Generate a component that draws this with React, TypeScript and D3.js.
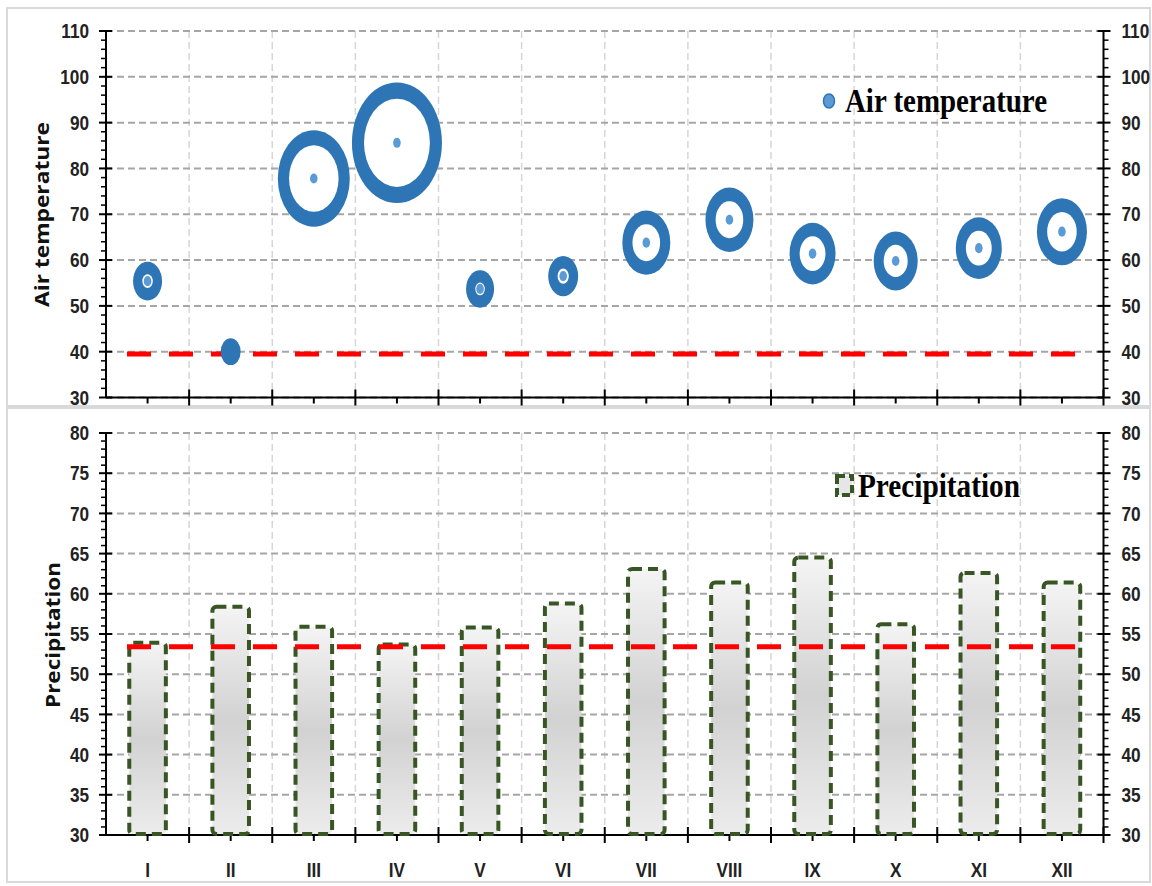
import React from "react";
import * as d3 from "d3";

const months = ["I", "II", "III", "IV", "V", "VI", "VII", "VIII", "IX", "X", "XI", "XII"];
const airTemp = [55.4, 40.0, 77.8, 85.6, 53.7, 56.5, 63.8, 68.8, 61.4, 59.8, 62.6, 66.2];
const bubbleSize = [10.4, 4.9, 64, 100, 9.7, 11.1, 28.4, 28.4, 26.1, 23.9, 26.1, 30.9];
const precipitation = [53.9, 58.4, 55.9, 53.7, 55.8, 58.8, 63.1, 61.4, 64.5, 56.2, 62.6, 61.4];
const airTempRef = 39.5;
const precipRef = 53.4;
const topTicks = [30, 40, 50, 60, 70, 80, 90, 100, 110];
const botTicks = [30, 35, 40, 45, 50, 55, 60, 65, 70, 75, 80];

const W = 1152;
const H = 886;
const L = 106;
const R = 1103.5;
const tickFont = "'Liberation Sans', Arial, sans-serif";

function Lbl(props: { x: number; y: number; anchor: string; children: React.ReactNode; size?: number }) {
  return (
    <text
      transform={`translate(${props.x},${props.y}) scale(0.86,1)`}
      dy="0.36em"
      textAnchor={props.anchor as any}
      fontFamily={tickFont}
      fontWeight="bold"
      fontSize={props.size ?? 20}
      fill="#222"
    >
      {props.children}
    </text>
  );
}

export default function App() {
  const x = d3.scaleBand<string>().domain(months).range([L, R]).padding(0);
  const yT = d3.scaleLinear().domain([30, 110]).range([397.5, 31]);
  const yB = d3.scaleLinear().domain([30, 80]).range([835, 433]);
  const rScale = d3.scaleSqrt().domain([0, 100]).range([0, 45]);
  const aspect = 1.34;
  const blue = "#2e75b6";
  const lightBlue = "#5b9bd5";
  const green = "#375623";

  const axisY = (y: d3.ScaleLinear<number, number>, ticks: number[], minorStep: number, key: string) => {
    const [d0, d1] = y.domain();
    const minors = d3.range(d0, d1 + 1e-9, minorStep).filter((v) => !ticks.some((t) => Math.abs(t - v) < 1e-9));
    const x0 = y.range()[0];
    return (
      <g key={key}>
        {ticks.map((t) => (
          <line key={"g" + t} x1={L} x2={R} y1={y(t)} y2={y(t)} stroke="#a6a6a6" strokeWidth={2} strokeDasharray="7,4" />
        ))}
        <line x1={L} x2={L} y1={y(d0)} y2={y(d1)} stroke="#000" strokeWidth={2} />
        {ticks.map((t) => (
          <line key={"lt" + t} x1={L - 7} x2={L + 6} y1={y(t)} y2={y(t)} stroke="#000" strokeWidth={2} />
        ))}
        {minors.map((t) => (
          <line key={"lm" + t} x1={L - 5} x2={L} y1={y(t)} y2={y(t)} stroke="#000" strokeWidth={1.5} />
        ))}
        {ticks.map((t) => (
          <Lbl key={"ll" + t} x={L - 17} y={y(t)} anchor="end">
            {t}
          </Lbl>
        ))}
        <line x1={R} x2={R} y1={y(d0)} y2={y(d1)} stroke="#000" strokeWidth={2} />
        {ticks.map((t) => (
          <line key={"rt" + t} x1={R - 6} x2={R + 7} y1={y(t)} y2={y(t)} stroke="#000" strokeWidth={2} />
        ))}
        {minors.map((t) => (
          <line key={"rm" + t} x1={R} x2={R + 5} y1={y(t)} y2={y(t)} stroke="#000" strokeWidth={1.5} />
        ))}
        {ticks.map((t) => (
          <Lbl key={"rl" + t} x={R + 18} y={y(t)} anchor="start">
            {t}
          </Lbl>
        ))}
        <line x1={L} x2={R} y1={x0} y2={x0} stroke="#000" strokeWidth={2} />
        {months.map((m, i) => (
          <g key={"xt" + m}>
            {i > 0 && <line x1={x(m)!} x2={x(m)!} y1={x0 - 8} y2={x0 + 8} stroke="#000" strokeWidth={2} />}
            <line x1={x(m)! + x.bandwidth() / 2} x2={x(m)! + x.bandwidth() / 2} y1={x0} y2={x0 + 6} stroke="#000" strokeWidth={2} />
          </g>
        ))}
        <line x1={R} x2={R} y1={x0 - 8} y2={x0 + 8} stroke="#000" strokeWidth={2} />
      </g>
    );
  };

  const vGrid = (y0: number, y1: number, key: string) => (
    <g key={key}>
      {months.slice(1).map((m) => (
        <line key={m} x1={x(m)!} x2={x(m)!} y1={y0} y2={y1} stroke="#d6d6d6" strokeWidth={1.5} strokeDasharray="7,4" />
      ))}
    </g>
  );

  const barW = x.bandwidth() * 0.44;

  return (
    <svg width={W} height={H} style={{ position: "absolute", left: 0, top: 0, background: "#fff" }}>
      <defs>
        <linearGradient id="barGrad" x1="0" y1="0" x2="0" y2="1">
          <stop offset="0" stopColor="#f4f4f4" />
          <stop offset="0.5" stopColor="#d2d2d2" />
          <stop offset="1" stopColor="#ececec" />
        </linearGradient>
      </defs>
      <rect x={0} y={0} width={W} height={H} fill="#fff" />
      <rect x={7} y={8} width={1143} height={398} fill="none" stroke="#d9d9d9" strokeWidth={2} />
      <rect x={7} y={408} width={1143} height={474} fill="none" stroke="#d9d9d9" strokeWidth={2} />

      {/* TOP PANEL */}
      {vGrid(31, 397.5, "vg1")}
      {axisY(yT, topTicks, 2, "axT")}
      <text transform={`translate(49,${(122 + 307) / 2}) rotate(-90)`} textAnchor="middle" fontFamily="'Open Sans', sans-serif" fontWeight={700} fontSize={19} textLength={185} lengthAdjust="spacingAndGlyphs" fill="#111">
        Air temperature
      </text>
      <line x1={127} x2={1078} y1={yT(airTempRef)} y2={yT(airTempRef)} stroke="#ff0000" strokeWidth={5} strokeDasharray="24,18" />
      {months.map((m, i) => {
        const cx = x(m)! + x.bandwidth() / 2;
        const cy = yT(airTemp[i]);
        const r = rScale(bubbleSize[i]);
        const t = 8 + r * 0.09;
        const hole = r - t;
        return (
          <g key={"b" + m}>
            <ellipse cx={cx} cy={cy} rx={r} ry={r * aspect} fill={blue} />
            {hole > 2 && <ellipse cx={cx} cy={cy} rx={hole} ry={hole * aspect} fill="#fff" />}
            {hole > 2 && <ellipse cx={cx} cy={cy} rx={3.8} ry={3.8 * aspect} fill={lightBlue} />}
          </g>
        );
      })}
      <ellipse cx={829} cy={101} rx={5.5} ry={7} fill={lightBlue} stroke={blue} strokeWidth={1.5} />
      <text x={845} y={112} fontFamily="'Liberation Serif', 'Times New Roman', serif" fontWeight="bold" fontSize={34} textLength={202} lengthAdjust="spacingAndGlyphs" fill="#000">
        Air temperature
      </text>

      {/* BOTTOM PANEL */}
      {vGrid(433, 835, "vg2")}
      {axisY(yB, botTicks, 1, "axB")}
      <text transform={`translate(60,${(562 + 708) / 2}) rotate(-90)`} textAnchor="middle" fontFamily="'Open Sans', sans-serif" fontWeight={700} fontSize={19} textLength={146} lengthAdjust="spacingAndGlyphs" fill="#111">
        Precipitation
      </text>
      {months.map((m, i) => {
        const cx = x(m)! + x.bandwidth() / 2;
        const yTop = yB(precipitation[i]);
        return (
          <rect key={"bar" + m} x={cx - barW / 2} y={yTop} width={barW} height={yB(30) - yTop - 1} rx={4} fill="url(#barGrad)" stroke={green} strokeWidth={4} strokeDasharray="10,6" />
        );
      })}
      <line x1={127} x2={1078} y1={yB(precipRef)} y2={yB(precipRef)} stroke="#ff0000" strokeWidth={5} strokeDasharray="24,18" />
      {months.map((m) => (
        <Lbl key={"xl" + m} x={x(m)! + x.bandwidth() / 2} y={870} anchor="middle" size={20}>
          {m}
        </Lbl>
      ))}
      <rect x={837} y={476} width={15} height={19} fill="#e6e6e6" stroke={green} strokeWidth={4} strokeDasharray="8,4" />
      <text x={858} y={497} fontFamily="'Liberation Serif', 'Times New Roman', serif" fontWeight="bold" fontSize={33} textLength={162} lengthAdjust="spacingAndGlyphs" fill="#000">
        Precipitation
      </text>
    </svg>
  );
}
